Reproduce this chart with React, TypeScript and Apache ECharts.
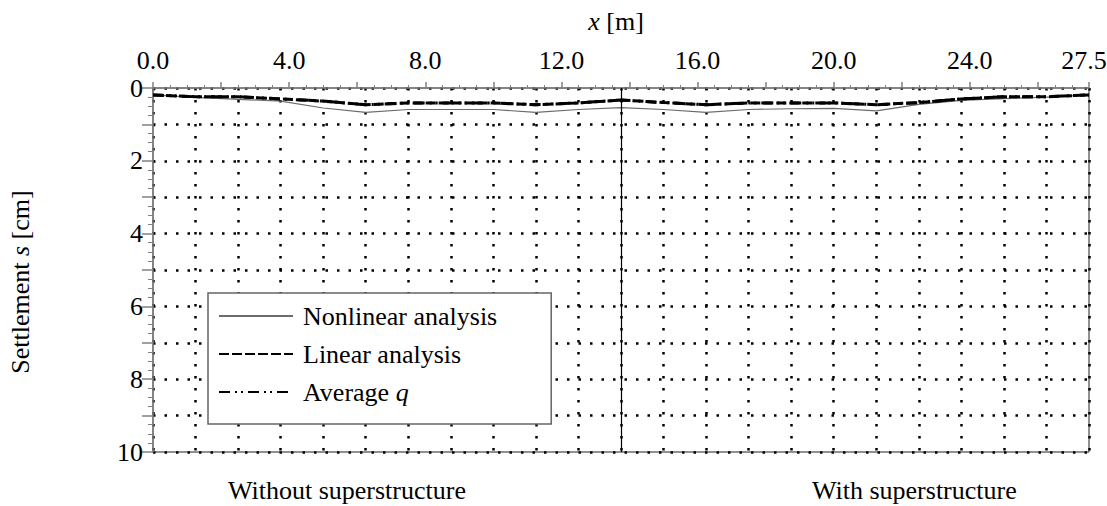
import { useEffect, useRef } from 'react';
import * as echarts from 'echarts';

// ---- data ----
const xPositions = [0, 1.25, 2.5, 3.75, 5, 6.25, 7.5, 8.75, 10, 11.25, 12.5, 13.75, 15, 16.25, 17.5, 18.75, 20, 21.25, 22.5, 23.75, 25, 26.25, 27.5];
const nonlinear = [0.19, 0.26, 0.31, 0.36, 0.55, 0.67, 0.59, 0.59, 0.59, 0.67, 0.59, 0.54, 0.59, 0.67, 0.59, 0.57, 0.56, 0.63, 0.45, 0.34, 0.29, 0.25, 0.19];
const linear = [0.19, 0.24, 0.24, 0.30, 0.36, 0.46, 0.41, 0.41, 0.41, 0.46, 0.41, 0.33, 0.40, 0.46, 0.41, 0.41, 0.41, 0.46, 0.40, 0.30, 0.24, 0.24, 0.19];
const averageQ = [0.19, 0.24, 0.24, 0.30, 0.36, 0.46, 0.41, 0.41, 0.41, 0.46, 0.41, 0.33, 0.40, 0.46, 0.41, 0.41, 0.41, 0.46, 0.40, 0.30, 0.24, 0.24, 0.19];
const xLabelValues = [0, 4, 8, 12, 16, 20, 24, 27.5];
const yLabelValues = [0, 2, 4, 6, 8, 10];
const seriesNames = ['Nonlinear analysis', 'Linear analysis', 'Average q'];
const sectionLabels = ['Without superstructure', 'With superstructure'];
const dividerX = 13.75;

const FONT = 'Liberation Serif';
const FS = 26;

const pairs = (ys: number[]) => xPositions.map((x, i) => [x, ys[i]]);

export default function App() {
  const ref = useRef<HTMLDivElement>(null);
  useEffect(() => {
    document.body.style.margin = '0';
    const chart = echarts.init(ref.current!, null, { renderer: 'svg' });
    const textBase = { fontFamily: FONT, fontSize: FS, color: '#000' };
    const rich = {
      i: { fontFamily: FONT, fontSize: FS, fontStyle: 'italic', color: '#000' },
      m: { fontFamily: FONT, fontSize: FS, color: '#000', padding: [0, 10, 0, 0] },
    };
    chart.setOption({
      animation: false,
      backgroundColor: '#fff',
      grid: {
        left: 153, right: 18, top: 88, bottom: 54,
        show: true, borderColor: '#222', borderWidth: 1,
        containLabel: false, outerBoundsMode: 'none',
      },
      legend: {
        orient: 'vertical', left: 208, top: 293,
        padding: [10, 54, 19, 10],
        backgroundColor: '#fff', borderColor: '#666', borderWidth: 1.5,
        itemWidth: 74, itemHeight: 14, itemGap: 12,
        data: seriesNames,
        itemStyle: { color: 'rgba(0,0,0,0)', borderColor: 'rgba(0,0,0,0)', borderWidth: 0 },
        formatter: (n: string) => (n === 'Average q' ? 'Average {i|q}' : n),
        textStyle: { ...textBase, padding: [0, 0, 0, 5], rich },
      },
      xAxis: [
        {
          type: 'value', position: 'top', min: 0, max: 27.5, interval: 2,
          axisLine: { show: true, lineStyle: { color: '#808080', width: 1.5 } },
          axisTick: { show: true, length: 6, lineStyle: { color: '#808080', width: 1.5 } },
          minorTick: { show: true, splitNumber: 4, length: 3, lineStyle: { color: '#808080' } },
          splitLine: { show: false },
          axisLabel: {
            ...textBase, margin: 15, showMinLabel: true, showMaxLabel: true, rich,
            formatter: (v: number) => {
              if (Math.abs(v - 27.5) < 1e-6) return '{m|27.5}';
              return xLabelValues.some((l) => Math.abs(l - v) < 1e-6) ? v.toFixed(1) : '';
            },
          },
          name: '{i|x} [m]', nameLocation: 'middle', nameGap: 54,
          nameTextStyle: { ...textBase, rich, padding: [0, 10, 0, 0] },
          nameMoveOverlap: false,
        },
        {
          type: 'value', position: 'bottom', min: 0, max: 27.5, interval: 1.25,
          axisLine: { show: false }, axisTick: { show: false }, axisLabel: { show: false },
          splitLine: { show: true, lineStyle: { color: '#000', width: 2.5, type: [2.5, 9.5] } },
        },
      ],
      yAxis: {
        type: 'value', inverse: true, min: 0, max: 10, interval: 1,
        axisLine: { show: true, lineStyle: { color: '#808080', width: 1.5 } },
        axisTick: { show: true, length: 11, lineStyle: { color: '#808080', width: 1.5 } },
        minorTick: { show: true, splitNumber: 4, length: 5, lineStyle: { color: '#808080' } },
        splitLine: { show: true, lineStyle: { color: '#000', width: 2.5, type: [2.5, 9] } },
        axisLabel: {
          ...textBase, margin: 10, showMinLabel: true, showMaxLabel: true,
          formatter: (v: number) => (yLabelValues.includes(v) ? String(v) : ''),
        },
        name: 'Settlement {i|s} [cm]', nameLocation: 'middle', nameGap: 120,
        nameTextStyle: { ...textBase, rich, padding: [0, 24, 0, 0] },
        nameMoveOverlap: false,
      },
      series: [
        {
          name: seriesNames[0], type: 'line', data: pairs(nonlinear), symbol: 'none',
          lineStyle: { color: '#6b6b6b', width: 1.2 }, itemStyle: { color: '#6b6b6b' },
          markLine: {
            symbol: 'none', silent: true, label: { show: false },
            lineStyle: { color: '#000', width: 1.2, type: 'solid' },
            data: [{ xAxis: dividerX }],
          },
        },
        {
          name: seriesNames[1], type: 'line', data: pairs(linear), symbol: 'none',
          lineStyle: { color: '#000', width: 3, type: [10, 3] }, itemStyle: { color: '#000' },
        },
        {
          name: seriesNames[2], type: 'line', data: pairs(averageQ), symbol: 'none',
          lineStyle: { color: '#000', width: 3, type: [11, 5, 2, 4, 2, 5] }, itemStyle: { color: '#000' },
        },
      ],
      graphic: [
        { type: 'text', left: 228, top: 477, style: { text: sectionLabels[0], font: `${FS}px "${FONT}"`, fill: '#000' } },
        { type: 'text', left: 812, top: 477, style: { text: sectionLabels[1], font: `${FS}px "${FONT}"`, fill: '#000' } },
      ],
    });
    return () => chart.dispose();
  }, []);
  return <div ref={ref} style={{ width: 1107, height: 506 }} />;
}
